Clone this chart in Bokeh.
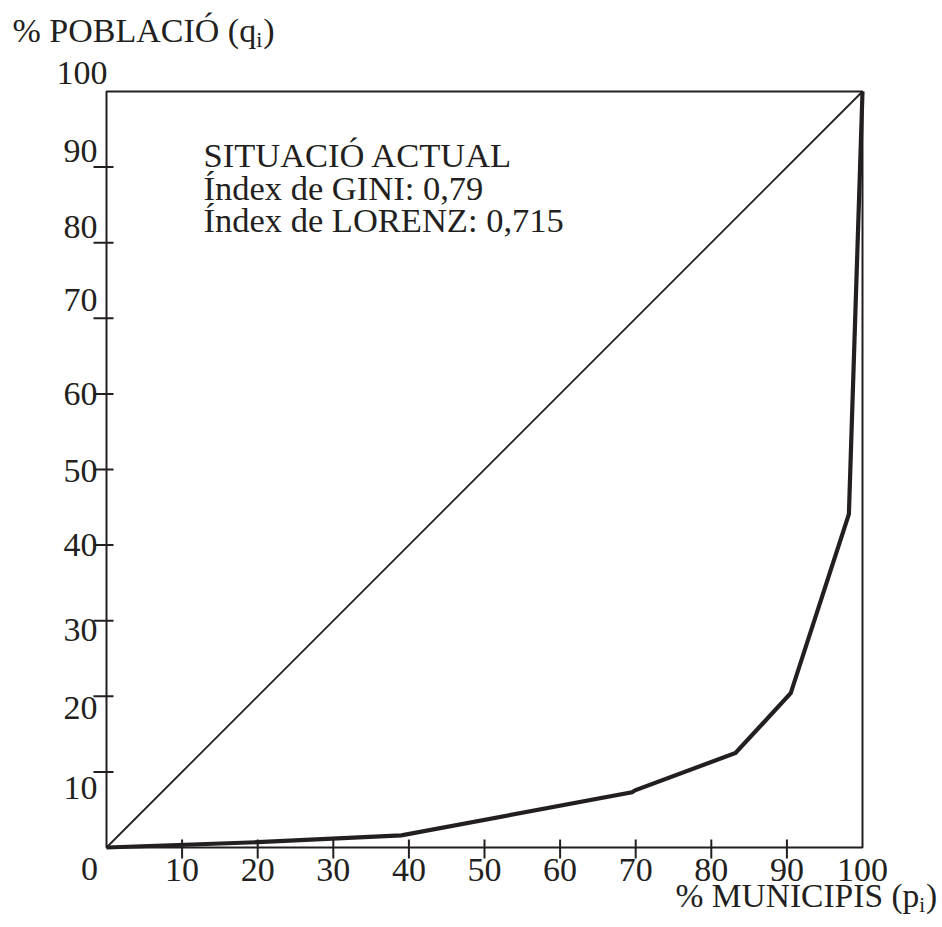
from bokeh.plotting import figure
from bokeh.models import Range1d, ColumnDataSource
from bokeh.core.properties import value
from bokeh.embed import file_html
from bokeh.resources import INLINE

# ---- data ----
lorenz_p = [0, 20, 39, 69.5, 70, 83.2, 90.5, 98.2, 100]
lorenz_q = [0, 0.7, 1.6, 7.3, 7.6, 12.5, 20.4, 44.1, 100]
equality_p = [0, 100]
equality_q = [0, 100]
x_tick_values = [10, 20, 30, 40, 50, 60, 70, 80, 90]
y_tick_values = [10, 20, 30, 40, 50, 60, 70, 80, 90]
x_label_values = [10, 20, 30, 40, 50, 60, 70, 80, 90, 100]
y_label_values = [10, 20, 30, 40, 50, 60, 70, 80, 90, 100]
origin_label = "0"
axis_min, axis_max = 0, 100
note_lines = ["SITUACIÓ ACTUAL", "Índex de GINI: 0,79", "Índex de LORENZ: 0,715"]
y_title = ("% POBLACIÓ (q", "i", ")")
x_title = ("% MUNICIPIS (p", "i", ")")

# ---- style / layout ----
INK = "#231f20"
FONT = value("Liberation Serif")
CW, CH = 940, 925           # canvas size
FX0, FY0, FRAME = 106, 91, 756   # box left/top and size in px
PX = FRAME / 100.0          # pixels per data unit
TICK_FS = "34px"
TEXT_FS = "34.5px"
# per-label vertical nudges of y tick labels (px, positive = lower) and horizontal nudges
y_label_nudge = [16, 12, 9, 0, 1, 0, -18, -16, -16, -19]
y_label_dx = [0, 0, 0, 0, 0, 0, 0, 0, 0, 10]


def dx(px):  # page px -> data x
    return (px - FX0) / PX


def dy(py):  # page px -> data y
    return (FY0 + FRAME - py) / PX


p = figure(width=CW, height=CH,
           x_range=Range1d(dx(0), dx(CW)), y_range=Range1d(dy(CH), dy(0)),
           output_backend="svg", toolbar_location=None,
           x_axis_type=None, y_axis_type=None, min_border=0)
p.grid.visible = False
p.outline_line_color = None
p.background_fill_color = "white"
p.border_fill_color = "white"

# box
p.quad(left=[axis_min], right=[axis_max], bottom=[axis_min], top=[axis_max],
       fill_color=None, line_color=INK, line_width=2)
# tick marks crossing the axes
p.segment(x0=x_tick_values, x1=x_tick_values,
          y0=[-11 / PX] * len(x_tick_values), y1=[8 / PX] * len(x_tick_values),
          line_color=INK, line_width=2)
p.segment(y0=y_tick_values, y1=y_tick_values,
          x0=[-13 / PX] * len(y_tick_values), x1=[7 / PX] * len(y_tick_values),
          line_color=INK, line_width=2)

p.line(equality_p, equality_q, line_color=INK, line_width=1.8)
p.line(lorenz_p, lorenz_q, line_color=INK, line_width=4.2, line_join="miter")

# x tick labels
xsrc = ColumnDataSource(dict(x=x_label_values, y=[-22 / PX] * len(x_label_values),
                             t=[str(v) for v in x_label_values]))
p.text(x="x", y="y", text="t", source=xsrc, text_align="center",
       text_baseline="middle", text_font=FONT, text_font_size=TICK_FS, text_color=INK)
# y tick labels
ysrc = ColumnDataSource(dict(x=[-(9 - d) / PX for d in y_label_dx],
                             y=[v - n / PX for v, n in zip(y_label_values, y_label_nudge)],
                             t=[str(v) for v in y_label_values]))
p.text(x="x", y="y", text="t", source=ysrc, text_align="right",
       text_baseline="middle", text_font=FONT, text_font_size=TICK_FS, text_color=INK)
p.text(x=[dx(89)], y=[dy(868)], text=[origin_label], text_align="center",
       text_baseline="middle", text_font=FONT, text_font_size=TICK_FS, text_color=INK)

# annotation
p.text(x=[dx(203)] * len(note_lines), y=[dy(154.5 + 32.5 * i) for i in range(len(note_lines))],
       text=note_lines, text_align="left", text_baseline="middle",
       text_font=FONT, text_font_size=TEXT_FS, text_color=INK)

# axis titles with subscripts (Times metrics for placement)
W = {"%": .833, " ": .25, "P": .556, "O": .722, "B": .667, "L": .611, "A": .722, "C": .667,
     "I": .333, "Ó": .722, "(": .333, "q": .5, "p": .5, "M": .889, "U": .722, "N": .722,
     "S": .556, "i": .278, ")": .333}


def width(s, fs):
    return sum(W.get(c, .5) for c in s) * fs


def title(parts, x0, mid, fs, sub_fs):
    main, sub, close = parts
    xs = [x0, x0 + width(main, fs), x0 + width(main, fs) + width(sub, sub_fs) + 1]
    ys = [mid, mid + 9, mid]
    sizes = [f"{fs}px", f"{sub_fs}px", f"{fs}px"]
    for t, x, y, s in zip(parts, xs, ys, sizes):
        p.text(x=[dx(x)], y=[dy(y)], text=[t], text_align="left", text_baseline="middle",
               text_font=FONT, text_font_size=s, text_color=INK)


title(y_title, 12, 30, 34, 22)
title(x_title, 675, 895, 33.5, 21)

open("out.html", "w").write(file_html(p, INLINE))
